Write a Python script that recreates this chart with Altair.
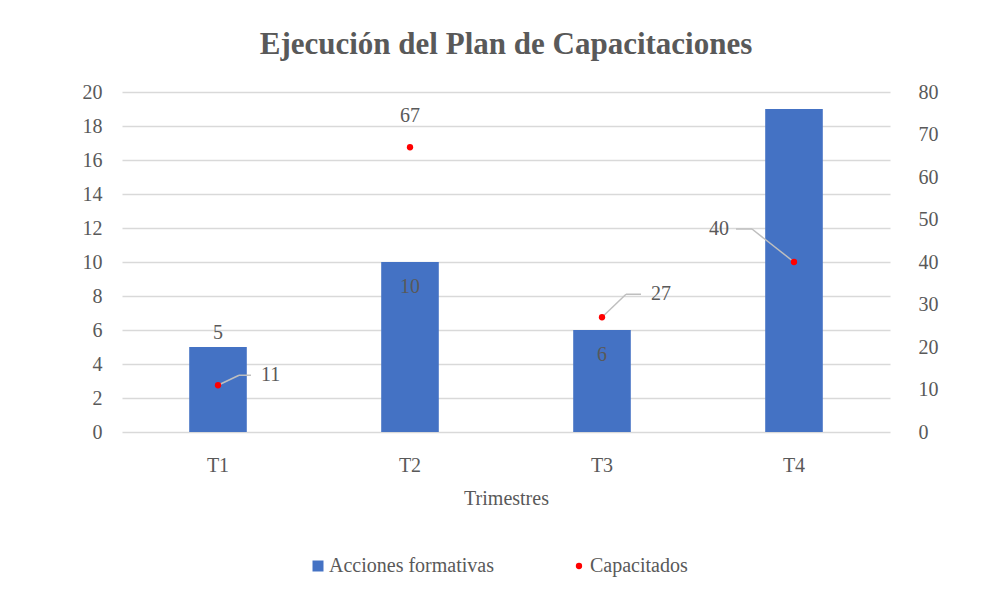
import altair as alt
import pandas as pd

# ---- data ----
categorias = ["T1", "T2", "T3", "T4"]
acciones = [5, 10, 6, 19]
capacitados = [11, 67, 27, 40]
ticks_izq = list(range(0, 21, 2))
ticks_der = list(range(0, 81, 10))

FONT = "Liberation Serif"
GRAY = "#595959"
BLUE = "#4472C4"
RED = "#FF0000"
GRID = "#d9d9d9"
LEAD = "#bfbfbf"
FS = 20
SERIE_A = "Acciones formativas"
SERIE_C = "Capacitados"

df_a = pd.DataFrame({"Trimestre": categorias, "valor": acciones, "serie": SERIE_A})
df_c = pd.DataFrame({"Trimestre": categorias, "valor": capacitados, "serie": SERIE_C})

xscale = alt.Scale(domain=categorias, paddingInner=0.7, paddingOuter=0.35)
xaxis = alt.Axis(title="Trimestres", labelAngle=0, labelFont=FONT, labelFontSize=FS,
                 labelColor=GRAY, labelPadding=23, ticks=False, domain=False,
                 titleFont=FONT, titleFontSize=FS, titleFontWeight="normal",
                 titleColor=GRAY, titlePadding=13)
xenc = alt.X("Trimestre:N", sort=categorias, scale=xscale, axis=xaxis)
xpt = alt.X("Trimestre:N", sort=categorias, scale=xscale, axis=xaxis, bandPosition=0.5)
x2pt = alt.X2("Trimestre", bandPosition=0.5)

yL = alt.Y("valor:Q", scale=alt.Scale(domain=[0, 20]),
           axis=alt.Axis(values=ticks_izq, title=None, grid=True, gridColor=GRID,
                         gridWidth=1.5, labelFont=FONT, labelFontSize=FS, labelColor=GRAY,
                         labelPadding=20, ticks=False, domain=False))
yR = alt.Y("valor:Q", scale=alt.Scale(domain=[0, 80]),
           axis=alt.Axis(orient="right", values=ticks_der, title=None, grid=False,
                         labelFont=FONT, labelFontSize=FS, labelColor=GRAY,
                         labelPadding=28, ticks=False, domain=False))

leg = alt.Legend(orient="none", legendX=186, legendY=464, direction="horizontal",
                 title=None, labelFont=FONT, labelFontSize=FS, labelColor=GRAY,
                 columnPadding=75, symbolStrokeWidth=0, labelOffset=1, labelLimit=400)
color = alt.Color("serie:N", scale=alt.Scale(domain=[SERIE_A, SERIE_C], range=[BLUE, RED]), legend=leg)
shape = alt.Shape("serie:N", scale=alt.Scale(domain=[SERIE_A, SERIE_C], range=["square", "circle"]), legend=leg)
size = alt.Size("serie:N", scale=alt.Scale(domain=[SERIE_A, SERIE_C], range=[121, 40]), legend=leg)

bars = alt.Chart(df_a).mark_bar().encode(x=xenc, y=yL, color=color)


def bar_label(cat, dy, baseline):
    return (alt.Chart(df_a).transform_filter(alt.datum.Trimestre == cat)
            .mark_text(font=FONT, fontSize=FS, color=GRAY, dy=dy, baseline=baseline)
            .encode(x=xenc, y=yL, text="valor:Q"))


left = alt.layer(bars,
                 bar_label("T1", -4, "bottom"),
                 bar_label("T2", 25, "middle"),
                 bar_label("T3", 25, "middle"))

points = alt.Chart(df_c).mark_point(filled=True, opacity=1).encode(
    x=xpt, y=yR, color=color, shape=shape, size=size)


def pt_label(cat, dx, dy, align):
    return (alt.Chart(df_c).transform_filter(alt.datum.Trimestre == cat)
            .mark_text(font=FONT, fontSize=FS, color=GRAY, dx=dx, dy=dy, align=align, baseline="middle")
            .encode(x=xpt, y=yR, text="valor:Q"))


def leader(cat, dx1, dy1, dx2):
    base = alt.Chart(df_c).transform_filter(alt.datum.Trimestre == cat)
    s1 = base.mark_rule(color=LEAD, strokeWidth=1.5, x2Offset=dx1, y2Offset=dy1).encode(
        x=xpt, x2=x2pt, y=yR, y2="valor:Q")
    s2 = base.mark_rule(color=LEAD, strokeWidth=1.5, xOffset=dx1, yOffset=dy1,
                        x2Offset=dx2, y2Offset=dy1).encode(x=xpt, x2=x2pt, y=yR, y2="valor:Q")
    return [s1, s2]


right = alt.layer(
    *leader("T1", 21, -10, 33),
    *leader("T3", 24, -23, 39),
    *leader("T4", -42, -33, -58),
    points,
    pt_label("T1", 43, -10, "left"),
    pt_label("T2", 0, -31, "center"),
    pt_label("T3", 49, -23, "left"),
    pt_label("T4", -65, -33, "right"),
)

chart = alt.layer(left, right).resolve_scale(y="independent").properties(
    width=768, height=340,
    title=alt.Title("Ejecución del Plan de Capacitaciones", font=FONT, fontSize=31,
                    fontWeight="bold", color=GRAY, anchor="middle", offset=21),
    padding={"left": 114, "top": 84, "right": 95, "bottom": 150},
    autosize=alt.AutoSizeParams(type="none"),
    background="white",
).configure(font=FONT).configure_axis(labelFont=FONT, titleFont=FONT).configure_legend(
    labelFont=FONT).configure_text(font=FONT).configure_view(stroke=None)

chart.save("out.html", embed_options={"renderer": "svg", "actions": False})
